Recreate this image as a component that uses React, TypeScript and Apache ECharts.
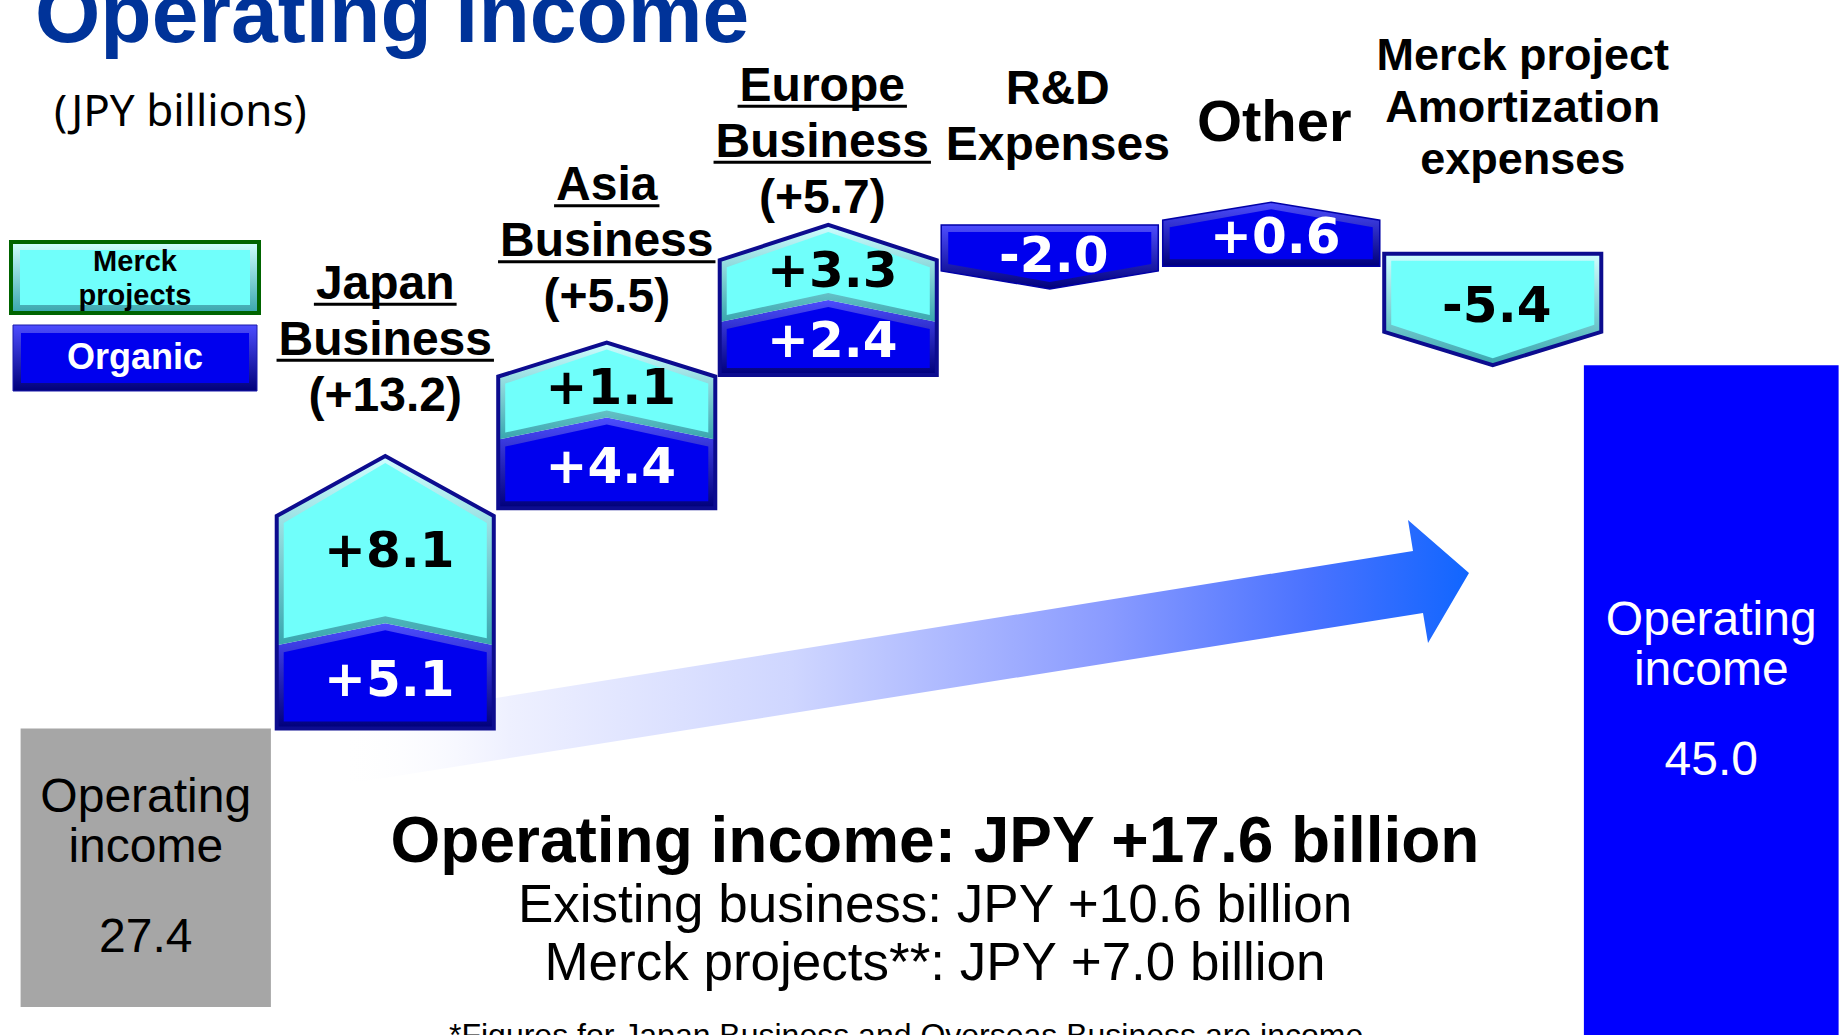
import React, { useEffect, useRef } from "react";
import * as echarts from "echarts";

// ---------------- data ----------------
const categories = [
  "Operating income (previous)",
  "Japan Business",
  "Asia Business",
  "Europe Business",
  "R&D Expenses",
  "Other",
  "Merck project Amortization expenses",
  "Operating income (current)",
];
const startValue = 27.4;
const endValue = 45.0;
const organicDeltas = [5.1, 4.4, 2.4, -2.0, 0.6, 0];
const merckDeltas = [8.1, 1.1, 3.3, 0, 0, -5.4];
const stepNameLines = [
  ["Japan", "Business"],
  ["Asia", "Business"],
  ["Europe", "Business"],
  ["R&D", "Expenses"],
  ["Other"],
  ["Merck project", "Amortization", "expenses"],
];
const showStepTotal = [true, true, true, false, false, false];
const totalLabelLines = ["Operating", "income"];
const legendLabels = ["Merck\nprojects", "Organic"];
const titleText = "Operating income";
const unitText = "(JPY billions)";
const summaryLines = [
  "Operating income: JPY +17.6 billion",
  "Existing business: JPY +10.6 billion",
  "Merck projects**: JPY +7.0 billion",
];
const footnoteText = "*Figures for Japan Business and Overseas Business are income";

// ---------------- styles ----------------
const stepLabelStyles = [
  { size: 48, lineHeight: 56, underline: 2, gap: 45, dx: 0 },
  { size: 48, lineHeight: 56, underline: 2, gap: 30, dx: 0 },
  { size: 48, lineHeight: 56, underline: 2, gap: 12, dx: -6 },
  { size: 48, lineHeight: 56, underline: 0, gap: 65, dx: 8 },
  { size: 58, lineHeight: 60, underline: 0, gap: 62, dx: 3 },
  { size: 45, lineHeight: 52, underline: 0, gap: 80, dx: 30 },
];
const totalBarStyles = [
  { widthFactor: 1.13, dx: -18, textShift: 0, fill: "#A6A6A6", textFill: "#000000" },
  { widthFactor: 1.15, dx: -3, textShift: -10, fill: "#0000FF", textFill: "#ffffff" },
];
const LIB = '"Liberation Sans", Arial, sans-serif';
const NOTO = '"Noto Sans", "DejaVu Sans", sans-serif';
const DEJAVU = '"DejaVu Sans", Verdana, sans-serif';
const LIB_CENTRAL = 0.3465;
const COLORS = {
  organicFace: "#0000EE",
  organicLight: "#4d4dff",
  organicDark: "#00007a",
  merckFace: "#70FFFB",
  merckLight: "#d0ffff",
  merckDark: "#38a6ae",
  navy: "#0c0c8f",
  title: "#003399",
};

let measureCtx: CanvasRenderingContext2D | null = null;
function measure(text: string, font: string): number {
  if (!measureCtx) {
    const c = document.createElement("canvas");
    measureCtx = c.getContext("2d");
  }
  if (!measureCtx) return text.length * 25;
  measureCtx.font = font;
  return measureCtx.measureText(text).width;
}

function txt(
  s: string,
  x: number,
  y: number,
  size: number,
  weight: string,
  family: string,
  fill: string,
  align: string = "center",
  extra: any = {}
) {
  return {
    type: "text",
    x,
    y,
    z2: 20,
    style: {
      text: s,
      fill,
      fontSize: size,
      fontWeight: weight,
      fontFamily: family,
      align,
      verticalAlign: "middle",
      textAlign: align,
      textVerticalAlign: "middle",
      ...extra,
    },
  };
}

function gtxt(s: string, x: number, y: number, size: number, weight: string, family: string, fill: string, align = "center", extra: any = {}) {
  const t: any = txt(s, x, y, size, weight, family, fill, align, extra);
  delete t.z2;
  t.z = 10;
  return t;
}

function grad(c1: string, c2: string) {
  return new echarts.graphic.LinearGradient(0, 0, 0, 1, [
    { offset: 0, color: c1 },
    { offset: 1, color: c2 },
  ]);
}

function fmtDelta(v: number) {
  return (v > 0 ? "+" : "") + v.toFixed(1);
}

function buildOption() {
  const seriesData: number[][] = [];
  seriesData.push([0, startValue, startValue, startValue]);
  let run = startValue;
  for (let k = 0; k < organicDeltas.length; k++) {
    const a = run;
    const b = a + organicDeltas[k];
    const c = b + merckDeltas[k];
    seriesData.push([k + 1, a, b, c]);
    run = c;
  }
  seriesData.push([categories.length - 1, endValue, endValue, endValue]);

  const renderItem = (params: any, api: any) => {
    const i = params.dataIndex;
    const xi = api.value(0);
    const cx0 = api.coord([xi, api.value(1)])[0];
    const band = api.size([1, 0])[0];
    const Y = (v: number) => api.coord([xi, v])[1];
    const children: any[] = [];

    // ---- total bars ----
    if (i === 0 || i === categories.length - 1) {
      const isStart = i === 0;
      const bs = totalBarStyles[isStart ? 0 : 1];
      const cx = cx0 + bs.dx;
      const w = band * bs.widthFactor;
      const top = Y(api.value(1));
      const bottom = isStart ? params.coordSys.y + params.coordSys.height : api.getHeight();
      children.push({
        type: "rect",
        shape: { x: cx - w / 2, y: top, width: w, height: bottom - top },
        style: { fill: bs.fill },
      });
      const mid = (top + bottom) / 2 + bs.textShift;
      children.push(txt(totalLabelLines[0], cx, mid - 72, 48, "normal", LIB, bs.textFill));
      children.push(txt(totalLabelLines[1], cx, mid - 22, 48, "normal", LIB, bs.textFill));
      children.push(txt(api.value(1).toFixed(1), cx, mid + 68, 48, "normal", LIB, bs.textFill));
      return { type: "group", children };
    }

    // ---- step boxes ----
    const cx = cx0;
    const k = i - 1;
    const v = [api.value(1), api.value(2), api.value(3)];
    const total = v[2] - v[0];
    const dir = total >= 0 ? 1 : -1;
    const w = band * 0.98;
    const xl = cx - w / 2;
    const xr = cx + w / 2;
    const totalPix = Math.abs(Y(v[2]) - Y(v[0]));
    const hTip = Math.max(18, Math.min(60, totalPix * 0.3));
    const hMid = 22;
    const minStack = 75;
    const segs: any[] = [];
    if (Math.abs(v[1] - v[0]) > 1e-9) segs.push({ from: v[0], to: v[1], kind: "organic" });
    if (Math.abs(v[2] - v[1]) > 1e-9) segs.push({ from: v[1], to: v[2], kind: "merck" });

    const geo: any[] = new Array(segs.length);
    if (segs.length > 1) {
      // stacked box: tip anchored at the end value, segments get a minimum thickness
      let farApex = Y(v[2]);
      for (let j = segs.length - 1; j >= 0; j--) {
        const s = segs[j];
        const farH = j === segs.length - 1 ? hTip : hMid;
        const nearH = j === 0 ? 0 : hMid;
        const span = Math.max(Math.abs(Y(s.to) - Y(s.from)), minStack);
        const nearApex = farApex + dir * span;
        geo[j] = { ...s, nearApex, nearH, farApex, farH };
        farApex = nearApex;
      }
    } else {
      // single box: flat edge anchored at the start value
      const s = segs[0];
      const farH = hTip;
      const nearApex = Y(v[0]);
      let farApex = Y(s.to);
      const minSpan = 46 + farH;
      if (dir * (nearApex - farApex) < minSpan) farApex = nearApex - dir * minSpan;
      geo[0] = { ...s, nearApex, nearH: 0, farApex, farH };
    }

    const d = 7;
    geo.forEach((g) => {
      const nearSides = g.nearApex + dir * g.nearH;
      const farSides = g.farApex + dir * g.farH;
      const pts = [
        [xl, nearSides],
        [cx, g.nearApex],
        [xr, nearSides],
        [xr, farSides],
        [cx, g.farApex],
        [xl, farSides],
      ];
      const inset = [
        [xl + d, nearSides - dir * d],
        [cx, g.nearApex - dir * d],
        [xr - d, nearSides - dir * d],
        [xr - d, farSides + dir * d],
        [cx, g.farApex + dir * d],
        [xl + d, farSides + dir * d],
      ];
      const isOrg = g.kind === "organic";
      children.push({
        type: "polygon",
        shape: { points: pts },
        style: {
          fill: isOrg ? grad(COLORS.organicLight, COLORS.organicDark) : grad(COLORS.merckLight, COLORS.merckDark),
        },
      });
      children.push({
        type: "polygon",
        shape: { points: inset },
        style: { fill: isOrg ? COLORS.organicFace : COLORS.merckFace },
      });
      const ty = (g.nearApex + 0.25 * (nearSides - g.nearApex) + g.farApex + 0.25 * (farSides - g.farApex)) / 2;
      children.push(txt(fmtDelta(g.to - g.from), cx + 4, ty, 50, "bold", DEJAVU, isOrg ? "#ffffff" : "#000000"));
    });

    const first = geo[0];
    const lastG = geo[geo.length - 1];
    const lastSides = lastG.farApex + dir * lastG.farH;
    const heavy = segs.some((s) => s.kind === "merck");
    children.push({
      type: "polygon",
      shape: {
        points: [
          [xl, first.nearApex],
          [xr, first.nearApex],
          [xr, lastSides],
          [cx, lastG.farApex],
          [xl, lastSides],
        ],
      },
      style: {
        fill: "none",
        stroke: heavy ? COLORS.navy : "#0000a8",
        lineWidth: heavy ? 4 : 1.5,
        lineJoin: "miter",
      },
    });

    // ---- category label above box ----
    const st = stepLabelStyles[k];
    const lines = stepNameLines[k].slice();
    if (showStepTotal[k]) lines.push("(" + fmtDelta(total) + ")");
    const topMost = dir > 0 ? lastG.farApex : first.nearApex;
    const bottomBaseline = topMost - st.gap;
    const lx = cx + st.dx;
    const n = lines.length;
    lines.forEach((line, j) => {
      const baseline = bottomBaseline - (n - 1 - j) * st.lineHeight;
      children.push(txt(line, lx, baseline - LIB_CENTRAL * st.size, st.size, "bold", LIB, "#000000"));
      if (j < st.underline) {
        const lw = measure(line, `bold ${st.size}px ${LIB}`);
        const uy = baseline + 0.11 * st.size;
        children.push({
          type: "line",
          shape: { x1: lx - lw / 2 - 2, y1: uy, x2: lx + lw / 2 + 2, y2: uy },
          style: { stroke: "#000000", lineWidth: 3 },
        });
      }
    });

    return { type: "group", children };
  };

  const arrowGradient = new echarts.graphic.LinearGradient(0, 0, 1, 0, [
    { offset: 0, color: "rgba(255,255,255,0)" },
    { offset: 0.15, color: "#eef0ff" },
    { offset: 0.4, color: "#cfd6ff" },
    { offset: 0.68, color: "#8a9bff" },
    { offset: 0.86, color: "#4a72ff" },
    { offset: 1, color: "#1166ff" },
  ]);

  const graphic: any[] = [
    {
      type: "polygon",
      z: 0,
      shape: {
        points: [
          [340, 785],
          [340, 723],
          [1413, 551],
          [1408, 520],
          [1469, 573],
          [1428, 643],
          [1423, 613],
        ],
      },
      style: { fill: arrowGradient },
    },
    gtxt(titleText, 35, 42 - LIB_CENTRAL * 84, 84, "bold", LIB, COLORS.title, "left"),
    gtxt(unitText, 54, 109, 44, "normal", NOTO, "#000000", "left"),
    // legend: Merck projects
    {
      type: "rect",
      z: 5,
      shape: { x: 11, y: 242, width: 248, height: 71 },
      style: { fill: grad(COLORS.merckLight, COLORS.merckDark), stroke: "#006400", lineWidth: 4 },
    },
    {
      type: "rect",
      z: 6,
      shape: { x: 20, y: 250, width: 230, height: 55 },
      style: { fill: COLORS.merckFace },
    },
    gtxt(legendLabels[0], 135, 277.5, 29, "bold", LIB, "#000000", "center", { lineHeight: 34 }),
    // legend: Organic
    {
      type: "rect",
      z: 5,
      shape: { x: 13, y: 325, width: 244, height: 66 },
      style: { fill: grad(COLORS.organicLight, COLORS.organicDark), stroke: "#1a1aaa", lineWidth: 1 },
    },
    {
      type: "rect",
      z: 6,
      shape: { x: 21, y: 333, width: 228, height: 50 },
      style: { fill: COLORS.organicFace },
    },
    gtxt(legendLabels[1], 135, 356, 36, "bold", LIB, "#ffffff"),
    // summary
    gtxt(summaryLines[0], 935, 862 - LIB_CENTRAL * 64, 64, "bold", LIB, "#000000"),
    gtxt(summaryLines[1], 935, 922 - LIB_CENTRAL * 53, 53, "normal", LIB, "#000000"),
    gtxt(summaryLines[2], 935, 980 - LIB_CENTRAL * 53, 53, "normal", LIB, "#000000"),
    gtxt(footnoteText, 449, 1046 - LIB_CENTRAL * 32, 32, "normal", LIB, "#000000", "left"),
  ];

  return {
    animation: false,
    backgroundColor: "#ffffff",
    grid: { left: 53, right: 14, top: 0, bottom: 28 },
    xAxis: { type: "category", data: categories, show: false },
    yAxis: { type: "value", min: 13.9, max: 62.7, show: false },
    tooltip: { show: false },
    graphic,
    series: [
      {
        type: "custom",
        clip: false,
        z: 2,
        renderItem,
        data: seriesData,
      },
    ],
  };
}

export default function App() {
  const ref = useRef<HTMLDivElement>(null);
  useEffect(() => {
    document.body.style.margin = "0";
    document.documentElement.style.margin = "0";
    const el = ref.current;
    if (!el) return;
    const chart = echarts.init(el, null, { renderer: "svg" });
    chart.setOption(buildOption() as any);
    return () => {
      chart.dispose();
    };
  }, []);
  return (
    <div
      ref={ref}
      style={{ position: "absolute", left: 0, top: 0, width: 1839, height: 1035, background: "#ffffff" }}
    />
  );
}
